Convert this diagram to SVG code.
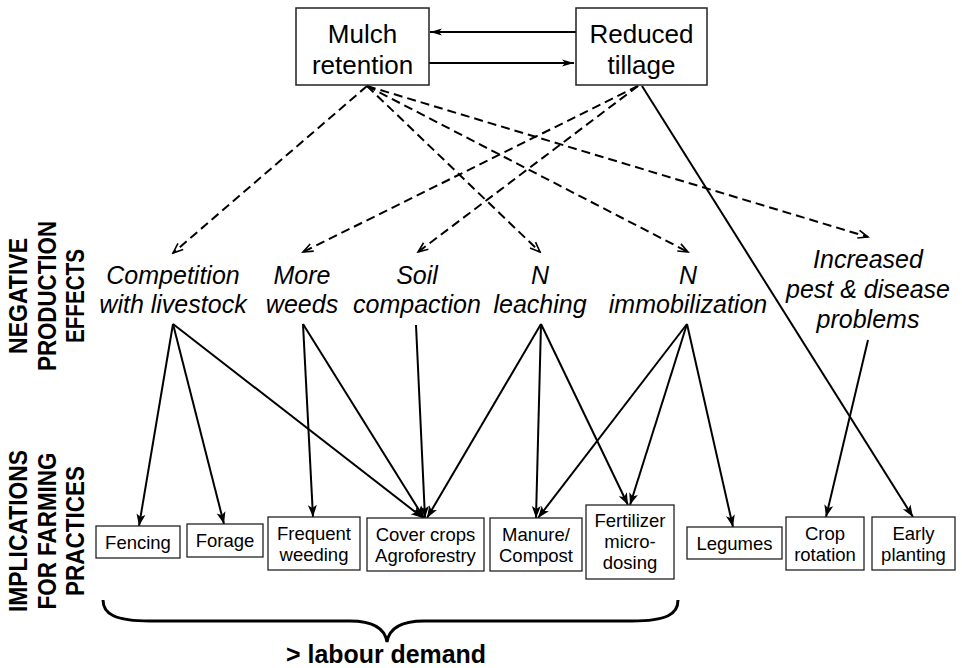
<svg xmlns="http://www.w3.org/2000/svg" width="962" height="668" viewBox="0 0 962 668">
<defs>
<style>
.box{fill:#fff;stroke:#222;stroke-width:1.3}
.tbox{fill:#fff;stroke:#222;stroke-width:1.5}
.t{font-family:"Liberation Sans",Arial,sans-serif;fill:#000;text-anchor:middle}
.top{font-size:26px}
.it{font-size:25px;font-style:italic}
.bx{font-size:18.5px}
.hd{font-size:25px;font-weight:bold}
.sol{stroke:#000;stroke-width:2;fill:none;marker-end:url(#ah)}
.dash{stroke:#000;stroke-width:2;fill:none;stroke-dasharray:9,5;marker-end:url(#ad)}
.hz{stroke:#000;stroke-width:2;fill:none;marker-end:url(#ahz)}
</style>
<marker id="ah" markerUnits="userSpaceOnUse" markerWidth="16" markerHeight="12" refX="13" refY="6" orient="auto" viewBox="0 0 16 12">
<path d="M13,6 L1,1.5 L4,6 L1,10.5 Z" fill="#000"/>
</marker>
<marker id="ahz" markerUnits="userSpaceOnUse" markerWidth="16" markerHeight="12" refX="13" refY="6" orient="auto" viewBox="0 0 16 12">
<path d="M13,6 L1,2.5 L4,6 L1,9.5 Z" fill="#000"/>
</marker>
<marker id="ad" markerUnits="userSpaceOnUse" markerWidth="14" markerHeight="12" refX="12" refY="6" orient="auto" viewBox="0 0 14 12">
<path d="M2,2 L12,6 L2,10" fill="none" stroke="#000" stroke-width="1.6"/>
</marker>
</defs>
<rect width="962" height="668" fill="#fff"/>

<g id="connectors">
<line class="hz" x1="576" y1="32" x2="430" y2="32"/>
<line class="hz" x1="429" y1="63" x2="574" y2="63"/>
<line class="dash" x1="367" y1="86" x2="173" y2="253"/>
<line class="dash" x1="367" y1="86" x2="540" y2="252"/>
<line class="dash" x1="367" y1="86" x2="688" y2="252"/>
<line class="dash" x1="367" y1="86" x2="868" y2="237"/>
<line class="dash" x1="638" y1="86" x2="303" y2="252"/>
<line class="dash" x1="638" y1="86" x2="418" y2="252"/>
<line class="sol" x1="642" y1="86" x2="913" y2="517"/>
<line class="sol" x1="173" y1="324" x2="139" y2="526"/>
<line class="sol" x1="173" y1="324" x2="224" y2="524"/>
<line class="sol" x1="173" y1="324" x2="423" y2="518"/>
<line class="sol" x1="303" y1="324" x2="313" y2="517"/>
<line class="sol" x1="303" y1="324" x2="424" y2="518"/>
<line class="sol" x1="416" y1="325" x2="425" y2="518"/>
<line class="sol" x1="541" y1="324" x2="427" y2="518"/>
<line class="sol" x1="541" y1="324" x2="536" y2="518"/>
<line class="sol" x1="541" y1="324" x2="628" y2="505"/>
<line class="sol" x1="687" y1="324" x2="538" y2="518"/>
<line class="sol" x1="687" y1="324" x2="630" y2="505"/>
<line class="sol" x1="687" y1="324" x2="733" y2="527"/>
<line class="sol" x1="868" y1="340" x2="826" y2="517"/>
</g>

<g id="mulch">
<rect class="tbox" x="296" y="8" width="133" height="77"/>
<text class="t top" x="362.5" y="43">Mulch</text>
<text class="t top" x="362.5" y="74">retention</text>
</g>
<g id="tillage">
<rect class="tbox" x="576" y="8" width="131" height="77"/>
<text class="t top" x="641.5" y="43">Reduced</text>
<text class="t top" x="641.5" y="74">tillage</text>
</g>

<g id="competition">
<text class="t it" x="173" y="284">Competition</text>
<text class="t it" x="173" y="313">with livestock</text>
</g>
<g id="weeds">
<text class="t it" x="302" y="284">More</text>
<text class="t it" x="302" y="313">weeds</text>
</g>
<g id="compaction">
<text class="t it" x="417" y="284">Soil</text>
<text class="t it" x="417" y="313">compaction</text>
</g>
<g id="leaching">
<text class="t it" x="540" y="284">N</text>
<text class="t it" x="540" y="313">leaching</text>
</g>
<g id="immobilization">
<text class="t it" x="688" y="284">N</text>
<text class="t it" x="688" y="313">immobilization</text>
</g>
<g id="pest">
<text class="t it" x="868" y="268">Increased</text>
<text class="t it" x="868" y="298">pest &amp; disease</text>
<text class="t it" x="868" y="328">problems</text>
</g>

<g id="fencing">
<rect class="box" x="96" y="526" width="84" height="32"/>
<text class="t bx" x="138" y="548.5">Fencing</text>
</g>
<g id="forage">
<rect class="box" x="187" y="524" width="76" height="33"/>
<text class="t bx" x="225" y="547">Forage</text>
</g>
<g id="frequent-weeding">
<rect class="box" x="268" y="517" width="92" height="53"/>
<text class="t bx" x="314" y="540">Frequent</text>
<text class="t bx" x="314" y="561">weeding</text>
</g>
<g id="cover-crops">
<rect class="box" x="367" y="518" width="117" height="53"/>
<text class="t bx" x="425.5" y="541">Cover crops</text>
<text class="t bx" x="425.5" y="562">Agroforestry</text>
</g>
<g id="manure">
<rect class="box" x="490" y="518" width="92" height="53"/>
<text class="t bx" x="536" y="541">Manure/</text>
<text class="t bx" x="536" y="562">Compost</text>
</g>
<g id="fertilizer">
<rect class="box" x="586" y="505" width="88" height="74"/>
<text class="t bx" x="630" y="527">Fertilizer</text>
<text class="t bx" x="630" y="548">micro-</text>
<text class="t bx" x="630" y="569">dosing</text>
</g>
<g id="legumes">
<rect class="box" x="687" y="527" width="95" height="32"/>
<text class="t bx" x="734.5" y="549.5">Legumes</text>
</g>
<g id="crop-rotation">
<rect class="box" x="786" y="517" width="78" height="53"/>
<text class="t bx" x="825" y="540">Crop</text>
<text class="t bx" x="825" y="561">rotation</text>
</g>
<g id="early-planting">
<rect class="box" x="872" y="517" width="83" height="53"/>
<text class="t bx" x="913.5" y="540">Early</text>
<text class="t bx" x="913.5" y="561">planting</text>
</g>

<g id="label-negative">
<text class="t hd" transform="translate(27,296) rotate(-90)" textLength="116" lengthAdjust="spacingAndGlyphs">NEGATIVE</text>
<text class="t hd" transform="translate(55.5,296) rotate(-90)" textLength="150" lengthAdjust="spacingAndGlyphs">PRODUCTION</text>
<text class="t hd" transform="translate(84,296) rotate(-90)" textLength="94" lengthAdjust="spacingAndGlyphs">EFFECTS</text>
</g>
<g id="label-implications">
<text class="t hd" transform="translate(27,531) rotate(-90)" textLength="162" lengthAdjust="spacingAndGlyphs">IMPLICATIONS</text>
<text class="t hd" transform="translate(55.5,531) rotate(-90)" textLength="157" lengthAdjust="spacingAndGlyphs">FOR FARMING</text>
<text class="t hd" transform="translate(84,531) rotate(-90)" textLength="130" lengthAdjust="spacingAndGlyphs">PRACTICES</text>
</g>

<g id="brace">
<path d="M103,600 C103,614 115,621 150,621 L350,621 C374,621 385,629 387,642 C389,629 400,621 424,621 L632,621 C667,621 678,614 678,600" fill="none" stroke="#000" stroke-width="3"/>
<text class="t hd" x="386" y="663" font-size="23px" textLength="200" lengthAdjust="spacingAndGlyphs">&gt; labour demand</text>
</g>
</svg>
